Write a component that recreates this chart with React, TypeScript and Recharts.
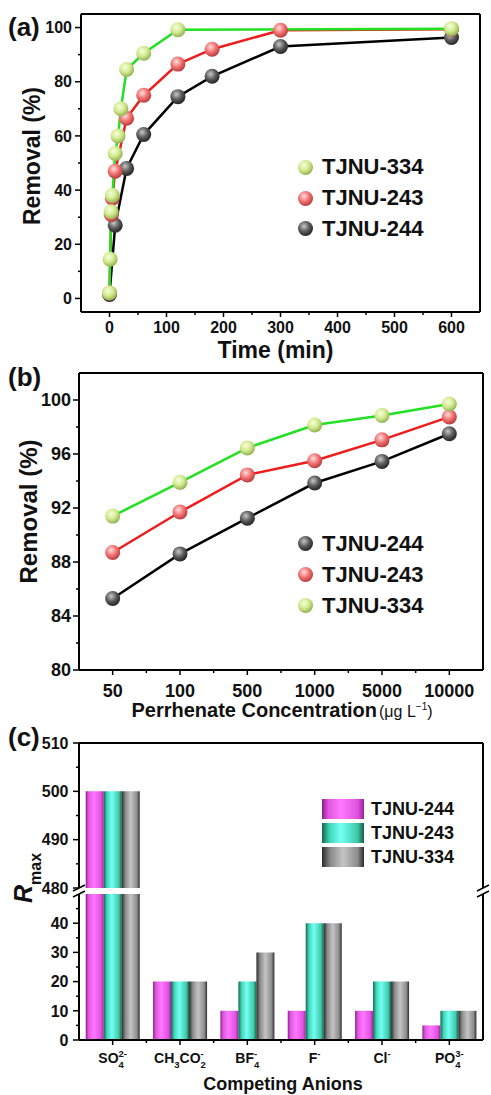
import { Bar, BarChart, Line, LineChart, XAxis, YAxis } from "recharts";

const FONT = "'Liberation Sans', Arial, Helvetica, sans-serif";

// (a) removal vs time
const TIME_334 = [0, 1, 3, 5, 10, 15, 20, 30, 60, 120, 600];
const REM_334 = [2, 14.5, 32, 38, 53.5, 60, 70, 84.5, 90.5, 99.2, 99.6];
const TIME_243 = [0, 3, 5, 10, 30, 60, 120, 180, 300, 600];
const REM_243 = [2, 31, 37, 47, 66.5, 75, 86.5, 92, 99, 99.4];
const TIME_244 = [0, 10, 30, 60, 120, 180, 300, 600];
const REM_244 = [1.5, 27, 48, 60.5, 74.5, 82, 93, 96.3];
const TICKS_A_X = [0, 50, 100, 150, 200, 250, 300, 350, 400, 450, 500, 550, 600];
const TICKS_A_Y = [0, 10, 20, 30, 40, 50, 60, 70, 80, 90, 100];

// (b) removal vs perrhenate concentration
const CONC = ["50", "100", "500", "1000", "5000", "10000"];
const CONC_244 = [85.3, 88.6, 91.25, 93.85, 95.45, 97.5];
const CONC_243 = [88.7, 91.7, 94.45, 95.5, 97.05, 98.75];
const CONC_334 = [91.4, 93.9, 96.45, 98.15, 98.85, 99.7];
const TICKS_B_X = [0, 0.5, 1, 1.5, 2, 2.5, 3, 3.5, 4, 4.5, 5];
const TICKS_B_Y = [80, 82, 84, 86, 88, 90, 92, 94, 96, 98, 100];

// (c) Rmax vs competing anions
const ANIONS = ["SO4", "CH3CO2", "BF4", "F", "Cl", "PO4"];
const RMAX_244 = [500, 20, 10, 10, 10, 5];
const RMAX_243 = [500, 20, 20, 40, 20, 10];
const RMAX_334 = [500, 20, 30, 40, 20, 10];
const TICKS_C_HI = [480, 485, 490, 495, 500, 505, 510];
const TICKS_C_LO = [0, 5, 10, 15, 20, 25, 30, 35, 40, 45];

type Part = { t?: string; sup?: string; sub?: string };
const ANION_LABEL: Record<string, Part[]> = {
  SO4: [{ t: "SO" }, { sup: "2-", sub: "4" }],
  CH3CO2: [{ t: "CH" }, { sub: "3" }, { t: "CO" }, { sup: "-", sub: "2" }],
  BF4: [{ t: "BF" }, { sup: "-", sub: "4" }],
  F: [{ t: "F" }, { sup: "-" }],
  Cl: [{ t: "Cl" }, { sup: "-" }],
  PO4: [{ t: "PO" }, { sup: "3-", sub: "4" }],
};

const dataB = CONC.map((c, i) => ({ i, c, a: CONC_244[i], b: CONC_243[i], d: CONC_334[i] }));
const dataC = ANIONS.map((name, i) => ({ name, a: RMAX_244[i], b: RMAX_243[i], d: RMAX_334[i] }));
const dataCHi = dataC.map((r) => ({
  name: r.name,
  a: r.a >= 480 ? r.a : null,
  b: r.b >= 480 ? r.b : null,
  d: r.d >= 480 ? r.d : null,
}));

const AXIS = { stroke: "#000", strokeWidth: 2 };
const GREEN = "#22e022";
const RED = "#f01c1c";
const BLACK = "#000";
const BAND_C = (491 - 79 - 8) / ANIONS.length;

type TickCfg = { major: (v: number) => boolean; len: number; minor: number; fs: number; off: number; fmt?: (v: number) => string };

function bottomTick(c: TickCfg) {
  return (p: any) => {
    const v = p.payload.value;
    const big = c.major(v);
    return (
      <g>
        <line x1={p.x} x2={p.x} y1={p.y} y2={p.y + (big ? c.len : c.minor)} stroke="#000" strokeWidth={1.5} />
        {big && (
          <text x={p.x} y={p.y + c.off} textAnchor="middle" fontSize={c.fs} fontWeight="bold" fontFamily={FONT} fill="#111">
            {c.fmt ? c.fmt(v) : String(v)}
          </text>
        )}
      </g>
    );
  };
}

function leftTick(c: TickCfg) {
  return (p: any) => {
    const v = p.payload.value;
    const big = c.major(v);
    return (
      <g>
        <line x1={p.x} x2={p.x - (big ? c.len : c.minor)} y1={p.y} y2={p.y} stroke="#000" strokeWidth={1.5} />
        {big && (
          <text x={p.x - c.off} y={p.y + c.fs * 0.36} textAnchor="end" fontSize={c.fs} fontWeight="bold" fontFamily={FONT} fill="#111">
            {String(v)}
          </text>
        )}
      </g>
    );
  };
}

function estWidth(s: string, fs: number) {
  return s.split("").reduce((w, ch) => w + (ch === "-" ? 0.333 : 0.556) * fs, 0);
}

function formulaSpans(parts: Part[]) {
  const out: any[] = [];
  let shift = 0;
  const sfs = 9.5;
  parts.forEach((p, k) => {
    if (p.t) {
      out.push(<tspan key={k} dy={-shift} fontSize={14}>{p.t}</tspan>);
      shift = 0;
      return;
    }
    if (p.sup) {
      out.push(<tspan key={k + "u"} dy={-6 - shift} fontSize={sfs}>{p.sup}</tspan>);
      shift = -6;
    }
    if (p.sub) {
      const back = p.sup ? -estWidth(p.sup, sfs) : 0;
      out.push(<tspan key={k + "d"} dx={back} dy={5 - shift} fontSize={sfs}>{p.sub}</tspan>);
      shift = 5;
    }
  });
  return out;
}

const anionTick = (p: any) => {
  const name = p.payload.value as string;
  const idx = ANIONS.indexOf(name);
  return (
    <g>
      <line x1={p.x} x2={p.x} y1={p.y} y2={p.y + 5} stroke="#000" strokeWidth={1.5} />
      {idx < ANIONS.length - 1 && (
        <line x1={p.x + BAND_C / 2} x2={p.x + BAND_C / 2} y1={p.y} y2={p.y + 3} stroke="#000" strokeWidth={1.5} />
      )}
      <text x={p.x} y={p.y + 23} textAnchor="middle" fontWeight="bold" fontFamily={FONT} fill="#111">
        {formulaSpans(ANION_LABEL[name] ?? [{ t: name }])}
      </text>
    </g>
  );
};

const yTitle = (text: string, cx: number, shift: number, fs: number) => (props: any) => {
  const vb = props.viewBox ?? {};
  const cy = (vb.y ?? 0) + (vb.height ?? 0) / 2 + shift;
  return (
    <text x={cx} y={cy} dy="0.35em" transform={`rotate(-90 ${cx} ${cy})`} textAnchor="middle" fontSize={fs} fontWeight="bold" fontFamily={FONT} fill="#111">
      {text}
    </text>
  );
};

const xTitle = (text: string, base: number, dx: number, fs: number) => (props: any) => {
  const vb = props.viewBox ?? {};
  return (
    <text x={(vb.x ?? 0) + (vb.width ?? 0) / 2 + dx} y={(vb.y ?? 0) + base} textAnchor="middle" fontSize={fs} fontWeight="bold" fontFamily={FONT} fill="#111">
      {text}
    </text>
  );
};

const concTitle = (props: any) => {
  const vb = props.viewBox ?? {};
  return (
    <text x={(vb.x ?? 0) + (vb.width ?? 0) / 2 + 1} y={(vb.y ?? 0) + 47} textAnchor="middle" fontFamily={FONT} fill="#111">
      <tspan fontSize={20} fontWeight="bold">Perrhenate Concentration</tspan>
      <tspan fontSize={16} dx={2}>(μg L</tspan>
      <tspan fontSize={10} dy={-7}>−1</tspan>
      <tspan fontSize={16} dy={7}>)</tspan>
    </text>
  );
};

const sphere = (fill: string) => (p: any) => (
  <circle key={`dot-${p.index}`} cx={p.cx} cy={p.cy} r={7.5} fill={fill} />
);

function Defs() {
  return (
    <svg width={0} height={0} style={{ position: "absolute" }}>
      <defs>
        <radialGradient id="s334" cx="0.4" cy="0.35" r="0.7">
          <stop offset="0" stopColor="#f8ffe0" />
          <stop offset="0.5" stopColor="#d2ea8e" />
          <stop offset="1" stopColor="#8aa84a" />
        </radialGradient>
        <radialGradient id="s243" cx="0.4" cy="0.35" r="0.7">
          <stop offset="0" stopColor="#ffe0e0" />
          <stop offset="0.5" stopColor="#f27272" />
          <stop offset="1" stopColor="#b03434" />
        </radialGradient>
        <radialGradient id="s244" cx="0.4" cy="0.35" r="0.7">
          <stop offset="0" stopColor="#c8c8c8" />
          <stop offset="0.5" stopColor="#5c5c5c" />
          <stop offset="1" stopColor="#1c1c1c" />
        </radialGradient>
        <linearGradient id="gMag" x1="0" x2="1" y1="0" y2="0">
          <stop offset="0" stopColor="#8a1f8a" />
          <stop offset="0.15" stopColor="#e055e0" />
          <stop offset="0.45" stopColor="#ff78ff" />
          <stop offset="0.85" stopColor="#e050e0" />
          <stop offset="1" stopColor="#9a259a" />
        </linearGradient>
        <linearGradient id="gCyan" x1="0" x2="1" y1="0" y2="0">
          <stop offset="0" stopColor="#13664a" />
          <stop offset="0.18" stopColor="#3fd6b8" />
          <stop offset="0.45" stopColor="#74fff4" />
          <stop offset="0.85" stopColor="#3cc9a8" />
          <stop offset="1" stopColor="#145f45" />
        </linearGradient>
        <linearGradient id="gGray" x1="0" x2="1" y1="0" y2="0">
          <stop offset="0" stopColor="#2a2a2a" />
          <stop offset="0.2" stopColor="#8a8a8a" />
          <stop offset="0.5" stopColor="#c4c4c4" />
          <stop offset="0.85" stopColor="#8c8c8c" />
          <stop offset="1" stopColor="#2c2c2c" />
        </linearGradient>
      </defs>
    </svg>
  );
}

type LegendItem = { label: string; fill: string };

function DotLegend({ items, left, top, row, fs }: { items: LegendItem[]; left: number; top: number; row: number; fs: number }) {
  return (
    <div style={{ position: "absolute", left, top, fontFamily: FONT, fontWeight: "bold", fontSize: fs, color: "#111" }}>
      {items.map((it) => (
        <div key={it.label} style={{ height: row, display: "flex", alignItems: "center" }}>
          <svg width={15} height={15} style={{ marginRight: 9 }}>
            <circle cx={7.5} cy={7.5} r={7.5} fill={it.fill} />
          </svg>
          <span>{it.label}</span>
        </div>
      ))}
    </div>
  );
}

function BoxLegend({ items, left, top, row, fs }: { items: LegendItem[]; left: number; top: number; row: number; fs: number }) {
  return (
    <div style={{ position: "absolute", left, top, fontFamily: FONT, fontWeight: "bold", fontSize: fs, color: "#111" }}>
      {items.map((it) => (
        <div key={it.label} style={{ height: row, display: "flex", alignItems: "center" }}>
          <svg width={42} height={20} style={{ marginRight: 7 }}>
            <rect x={0} y={0} width={42} height={20} fill={it.fill} />
          </svg>
          <span>{it.label}</span>
        </div>
      ))}
    </div>
  );
}

function PanelA() {
  return (
    <LineChart width={491} height={370} margin={{ top: 0, right: 0, bottom: 0, left: 0 }}>
      <XAxis xAxisId="top" orientation="top" height={14} type="number" domain={[0, 1]} tick={false} tickLine={false} axisLine={AXIS} />
      <YAxis yAxisId="right" orientation="right" width={11} type="number" domain={[0, 1]} tick={false} tickLine={false} axisLine={AXIS} />
      <XAxis
        xAxisId="x"
        type="number"
        dataKey="t"
        domain={[-50, 650]}
        ticks={TICKS_A_X}
        interval={0}
        height={58}
        tickSize={0}
        tickMargin={0}
        tickLine={false}
        axisLine={AXIS}
        tick={bottomTick({ major: (v) => v % 100 === 0, len: 5, minor: 3, fs: 16, off: 21 })}
        label={{ content: xTitle("Time (min)", 46, -5, 23) }}
      />
      <YAxis
        yAxisId="y"
        type="number"
        domain={[-5, 105]}
        ticks={TICKS_A_Y}
        interval={0}
        width={81}
        tickSize={0}
        tickMargin={0}
        tickLine={false}
        axisLine={AXIS}
        tick={leftTick({ major: (v) => v % 20 === 0, len: 6, minor: 3, fs: 16, off: 9 })}
        label={{ content: yTitle("Removal (%)", 32, -7, 23) }}
      />
      <Line xAxisId="x" yAxisId="y" data={TIME_244.map((t, i) => ({ t, v: REM_244[i] }))} dataKey="v" stroke={BLACK} strokeWidth={2.5} dot={sphere("url(#s244)")} activeDot={false} isAnimationActive={false} />
      <Line xAxisId="x" yAxisId="y" data={TIME_243.map((t, i) => ({ t, v: REM_243[i] }))} dataKey="v" stroke={RED} strokeWidth={2.5} dot={sphere("url(#s243)")} activeDot={false} isAnimationActive={false} />
      <Line xAxisId="x" yAxisId="y" data={TIME_334.map((t, i) => ({ t, v: REM_334[i] }))} dataKey="v" stroke={GREEN} strokeWidth={2.5} dot={sphere("url(#s334)")} activeDot={false} isAnimationActive={false} />
    </LineChart>
  );
}

function PanelB() {
  return (
    <LineChart width={491} height={360} data={dataB} margin={{ top: 0, right: 0, bottom: 0, left: 0 }}>
      <XAxis xAxisId="top" orientation="top" height={13} type="number" domain={[0, 1]} tick={false} tickLine={false} axisLine={AXIS} />
      <YAxis yAxisId="right" orientation="right" width={8} type="number" domain={[0, 1]} tick={false} tickLine={false} axisLine={AXIS} />
      <XAxis
        xAxisId="x"
        type="number"
        dataKey="i"
        domain={[-0.5, 5.5]}
        ticks={TICKS_B_X}
        interval={0}
        height={50}
        tickSize={0}
        tickMargin={0}
        tickLine={false}
        axisLine={AXIS}
        tick={bottomTick({ major: (v) => Number.isInteger(v), len: 5, minor: 3, fs: 18, off: 27, fmt: (v) => CONC[v] })}
        label={{ content: concTitle }}
      />
      <YAxis
        yAxisId="y"
        type="number"
        domain={[80, 102]}
        ticks={TICKS_B_Y}
        interval={0}
        width={79}
        tickSize={0}
        tickMargin={0}
        tickLine={false}
        axisLine={AXIS}
        tick={leftTick({ major: (v) => v % 4 === 0, len: 6, minor: 3, fs: 18, off: 8 })}
        label={{ content: yTitle("Removal (%)", 29, -10, 24) }}
      />
      <Line xAxisId="x" yAxisId="y" dataKey="a" stroke={BLACK} strokeWidth={2.5} dot={sphere("url(#s244)")} activeDot={false} isAnimationActive={false} />
      <Line xAxisId="x" yAxisId="y" dataKey="b" stroke={RED} strokeWidth={2.5} dot={sphere("url(#s243)")} activeDot={false} isAnimationActive={false} />
      <Line xAxisId="x" yAxisId="y" dataKey="d" stroke={GREEN} strokeWidth={2.5} dot={sphere("url(#s334)")} activeDot={false} isAnimationActive={false} />
    </LineChart>
  );
}

function PanelCUpper() {
  return (
    <BarChart width={491} height={170} data={dataCHi} barCategoryGap="10%" barGap={0} margin={{ top: 0, right: 0, bottom: 12, left: 0 }}>
      <XAxis dataKey="name" orientation="top" height={13} tick={false} tickLine={false} axisLine={AXIS} />
      <YAxis yAxisId="right" orientation="right" width={8} type="number" domain={[0, 1]} tick={false} tickLine={false} axisLine={AXIS} />
      <YAxis
        type="number"
        domain={[480, 510]}
        allowDataOverflow
        ticks={TICKS_C_HI}
        interval={0}
        width={79}
        tickSize={0}
        tickMargin={0}
        tickLine={false}
        axisLine={AXIS}
        tick={leftTick({ major: (v) => v % 10 === 0, len: 6, minor: 3, fs: 16, off: 10.5 })}
      />
      <Bar dataKey="a" fill="url(#gMag)" isAnimationActive={false} />
      <Bar dataKey="b" fill="url(#gCyan)" isAnimationActive={false} />
      <Bar dataKey="d" fill="url(#gGray)" isAnimationActive={false} />
    </BarChart>
  );
}

function PanelCLower() {
  return (
    <BarChart width={491} height={215} data={dataC} barCategoryGap="10%" barGap={0} margin={{ top: 14, right: 0, bottom: 0, left: 0 }}>
      <YAxis yAxisId="right" orientation="right" width={8} type="number" domain={[0, 1]} tick={false} tickLine={false} axisLine={AXIS} />
      <XAxis
        dataKey="name"
        height={55}
        interval={0}
        tickSize={0}
        tickMargin={0}
        tickLine={false}
        axisLine={AXIS}
        tick={anionTick}
        label={{ content: xTitle("Competing Anions", 50, 2, 18) }}
      />
      <YAxis
        type="number"
        domain={[0, 50]}
        allowDataOverflow
        ticks={TICKS_C_LO}
        interval={0}
        width={79}
        tickSize={0}
        tickMargin={0}
        tickLine={false}
        axisLine={AXIS}
        tick={leftTick({ major: (v) => v % 10 === 0, len: 6, minor: 3, fs: 16, off: 10.5 })}
      />
      <Bar dataKey="a" fill="url(#gMag)" isAnimationActive={false} />
      <Bar dataKey="b" fill="url(#gCyan)" isAnimationActive={false} />
      <Bar dataKey="d" fill="url(#gGray)" isAnimationActive={false} />
    </BarChart>
  );
}

export default function App() {
  const breakMarks = [79, 483].map((ax) => (
    <g key={ax} stroke="#000" strokeWidth={1.5}>
      <line x1={ax - 6} y1={891} x2={ax + 6} y2={885} />
      <line x1={ax - 6} y1={897} x2={ax + 6} y2={891} />
    </g>
  ));
  return (
    <div style={{ position: "absolute", left: 0, top: 0, width: 491, height: 1095, background: "#fff", overflow: "hidden" }}>
      <Defs />
      <div style={{ position: "absolute", left: 0, top: 0 }}>
        <PanelA />
      </div>
      <div style={{ position: "absolute", left: 0, top: 360 }}>
        <PanelB />
      </div>
      <div style={{ position: "absolute", left: 0, top: 880 }}>
        <PanelCLower />
      </div>
      <div style={{ position: "absolute", left: 0, top: 730 }}>
        <PanelCUpper />
      </div>
      <DotLegend
        left={298}
        top={152}
        row={30.7}
        fs={22}
        items={[
          { label: "TJNU-334", fill: "url(#s334)" },
          { label: "TJNU-243", fill: "url(#s243)" },
          { label: "TJNU-244", fill: "url(#s244)" },
        ]}
      />
      <DotLegend
        left={298}
        top={528}
        row={31.2}
        fs={22}
        items={[
          { label: "TJNU-244", fill: "url(#s244)" },
          { label: "TJNU-243", fill: "url(#s243)" },
          { label: "TJNU-334", fill: "url(#s334)" },
        ]}
      />
      <BoxLegend
        left={322}
        top={797}
        row={24}
        fs={18}
        items={[
          { label: "TJNU-244", fill: "url(#gMag)" },
          { label: "TJNU-243", fill: "url(#gCyan)" },
          { label: "TJNU-334", fill: "url(#gGray)" },
        ]}
      />
      <svg width={491} height={1095} style={{ position: "absolute", left: 0, top: 0, pointerEvents: "none" }}>
        <g fontFamily={FONT} fontWeight="bold" fill="#111" fontSize={26}>
          <text x={8} y={36}>(a)</text>
          <text x={8} y={386}>(b)</text>
          <text x={8} y={746}>(c)</text>
        </g>
        <text transform="translate(32 878) rotate(-90)" textAnchor="middle" fontFamily={FONT} fontWeight="bold" fill="#111">
          <tspan fontSize={25} fontStyle="italic">R</tspan>
          <tspan fontSize={16} dy={9}>max</tspan>
        </text>
        {breakMarks}
      </svg>
    </div>
  );
}
